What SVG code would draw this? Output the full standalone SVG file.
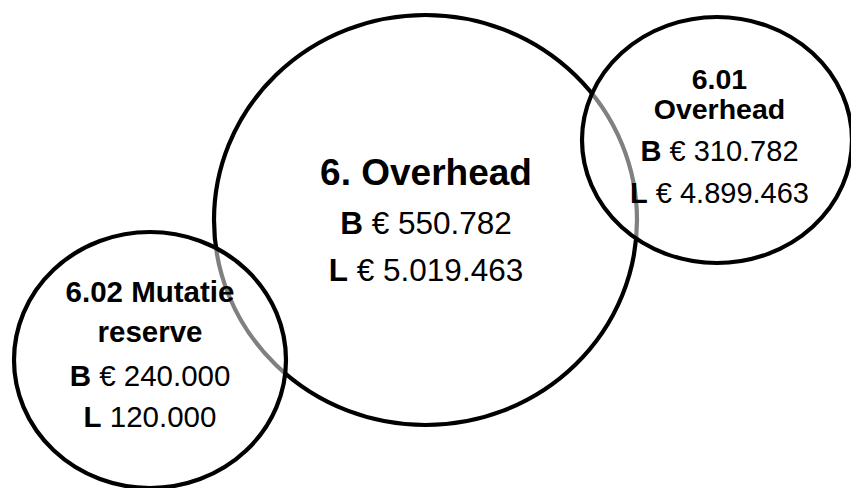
<svg xmlns="http://www.w3.org/2000/svg" width="851" height="488" viewBox="0 0 851 488">
  <style>
    .ring { stroke: #000; stroke-width: 4.2; }
    .main { fill: #fff; }
    .sub { fill: #fff; fill-opacity: 0.5; }
    text { font-family: "Liberation Sans", Arial, sans-serif; fill: #000; text-anchor: middle; }
    .b { font-weight: bold; }
  </style>
  <rect width="851" height="488" fill="#fff"/>

  <!-- parent cost centre -->
  <g id="node-6-overhead">
    <ellipse class="ring main" cx="425.5" cy="220" rx="211.5" ry="205"/>
  </g>

  <!-- sub cost centres: translucent fill greys the parent's outline where they overlap -->
  <g id="node-6-01-overhead">
    <ellipse class="ring sub" cx="717" cy="140" rx="135" ry="123"/>
  </g>
  <g id="node-6-02-mutatie-reserve">
    <ellipse class="ring sub" cx="150" cy="360" rx="136" ry="128"/>
  </g>

  <g id="labels">
    <text x="426" y="185" class="b" font-size="37">6. Overhead</text>
    <text x="426" y="234" font-size="31.5"><tspan class="b">B</tspan> € 550.782</text>
    <text x="426" y="281" font-size="31.5"><tspan class="b">L</tspan> € 5.019.463</text>

    <text x="719.5" y="89" class="b" font-size="28.5">6.01</text>
    <text x="719.5" y="119" class="b" font-size="28.5">Overhead</text>
    <text x="719.5" y="161" font-size="29"><tspan class="b">B</tspan> € 310.782</text>
    <text x="719.5" y="203" font-size="29"><tspan class="b">L</tspan> € 4.899.463</text>

    <text x="150" y="302" class="b" font-size="29.5">6.02 Mutatie</text>
    <text x="150" y="342" class="b" font-size="29.5">reserve</text>
    <text x="150" y="386" font-size="29.5"><tspan class="b">B</tspan> € 240.000</text>
    <text x="150" y="427" font-size="29.5"><tspan class="b">L</tspan> 120.000</text>
  </g>
</svg>
